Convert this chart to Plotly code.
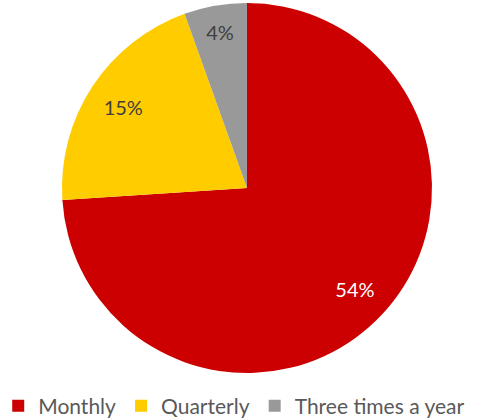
import plotly.graph_objects as go

categories = ["Monthly", "Quarterly", "Three times a year"]
values = [54, 15, 4]
colors = ["#CC0000", "#FFCC00", "#999999"]
text_colors = ["#FFFFFF", "#404040", "#404040"]

FONT = "Lato, Open Sans, sans-serif"
PIE_DOMAIN = dict(x=[16 / 478, 1.0], y=[0.0, 1.0])

fig = go.Figure()
# Main pie (slices + legend)
fig.add_trace(go.Pie(
    labels=categories,
    values=values,
    textinfo="none",
    sort=False,
    direction="clockwise",
    rotation=0,
    domain=PIE_DOMAIN,
    marker=dict(colors=colors, line=dict(width=0)),
    hoverinfo="label+value",
))
# Label layer: same data, ring-shaped so labels sit near the outer part of each slice
fig.add_trace(go.Pie(
    labels=categories,
    values=values,
    text=[f"{v}%" for v in values],
    textinfo="text",
    textposition="inside",
    insidetextorientation="horizontal",
    hole=0.6,
    sort=False,
    direction="clockwise",
    rotation=0,
    domain=PIE_DOMAIN,
    marker=dict(colors=["rgba(0,0,0,0)"] * 3, line=dict(width=0)),
    textfont=dict(family=FONT, size=20, color=text_colors),
    showlegend=False,
    hoverinfo="skip",
))

fig.update_layout(
    width=478, height=419,
    margin=dict(l=0, r=0, t=3, b=46),
    paper_bgcolor="white",
    plot_bgcolor="white",
    showlegend=True,
    legend=dict(
        orientation="h",
        xref="container", yref="container",
        x=0.49, xanchor="center",
        y=1 - 406 / 419, yanchor="middle",
        font=dict(family=FONT, size=21, color="#595959"),
        itemwidth=30,
        traceorder="normal",
    ),
)

fig.write_html("out.html", config={"displayModeBar": False},
               post_script="document.body.style.margin='0';")
